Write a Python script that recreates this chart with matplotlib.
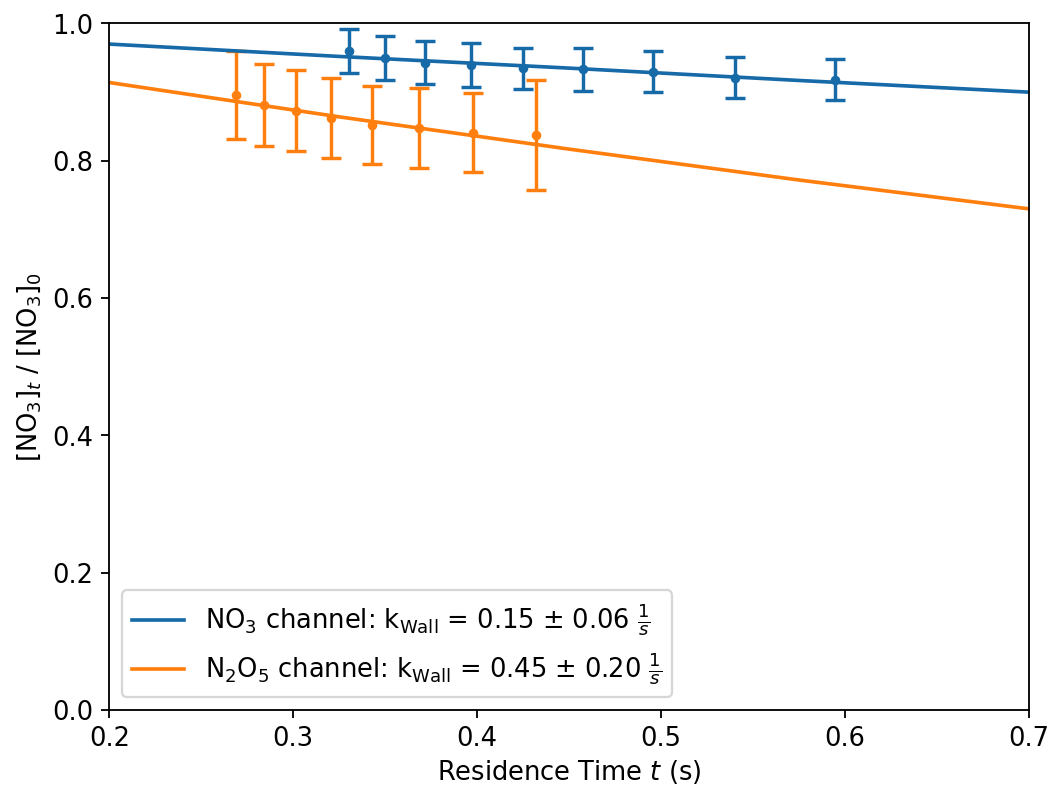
#!/usr/bin/env python3
"""NO3 wall loss: normalised signal vs residence time for both channels."""

import matplotlib

matplotlib.use("Agg")
import matplotlib.pyplot as plt


# NO3 channel measurements
no3_t = [0.3305, 0.3501, 0.3718, 0.3968, 0.4250, 0.4576, 0.4958, 0.5402, 0.5946]
no3_ratio = [0.960, 0.950, 0.943, 0.939, 0.935, 0.933, 0.930, 0.921, 0.918]
no3_err = [0.032, 0.032, 0.031, 0.032, 0.030, 0.031, 0.030, 0.030, 0.030]

# N2O5 channel measurements
n2o5_t = [0.2687, 0.2841, 0.3014, 0.3206, 0.3428, 0.3684, 0.3979, 0.4322]
n2o5_ratio = [0.896, 0.881, 0.873, 0.862, 0.852, 0.848, 0.841, 0.837]
n2o5_err = [0.064, 0.060, 0.059, 0.058, 0.057, 0.058, 0.058, 0.080]

# fitted decay curves
fit_t = [0.2, 0.325, 0.45, 0.575, 0.7]
no3_fit = [0.970, 0.952, 0.935, 0.917, 0.900]
n2o5_fit = [0.914, 0.864, 0.817, 0.772, 0.730]

no3_label = r"NO$_3$ channel: k$_{\mathrm{Wall}}$ = 0.15 $\pm$ 0.06 $\frac{1}{s}$"
n2o5_label = r"N$_2$O$_5$ channel: k$_{\mathrm{Wall}}$ = 0.45 $\pm$ 0.20 $\frac{1}{s}$"


def main() -> None:
    plt.rcParams["font.size"] = 11.3
    fig, ax = plt.subplots(figsize=(6.4, 4.8), dpi=164.2)
    fig.subplots_adjust(left=0.104, right=0.979, bottom=0.099, top=0.970)

    blue = "#176aa8"
    orange = "#ff7f0e"

    ax.errorbar(no3_t, no3_ratio, yerr=no3_err, fmt="o", color=blue,
                markersize=3.2, capsize=4.5, elinewidth=1.5, capthick=1.5)
    ax.errorbar(n2o5_t, n2o5_ratio, yerr=n2o5_err, fmt="o", color=orange,
                markersize=3.2, capsize=4.5, elinewidth=1.5, capthick=1.5)
    ax.plot(fit_t, no3_fit, color=blue, lw=1.6, label=no3_label)
    ax.plot(fit_t, n2o5_fit, color=orange, lw=1.6, label=n2o5_label)

    ax.set_xlim(0.2, 0.7)
    ax.set_ylim(0.0, 1.0)
    ax.set_xlabel(r"Residence Time $t$ (s)", labelpad=2.5)
    ax.set_ylabel(r"[NO$_3$]$_t$ / [NO$_3$]$_0$")
    ax.legend(loc="lower left")

    fig.savefig("out.png", dpi=164.2)
    plt.close(fig)


if __name__ == "__main__":
    main()
